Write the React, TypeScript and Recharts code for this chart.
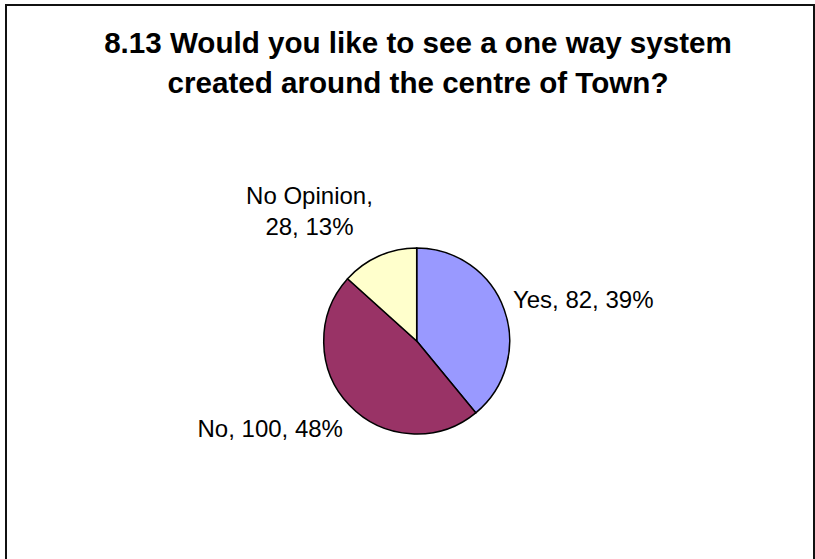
import React from 'react';
import { PieChart, Pie, Cell } from 'recharts';

const categories = ['Yes', 'No', 'No Opinion'];
const counts = [82, 100, 28];
const sliceColors = ['#9999FF', '#993366', '#FFFFCC'];
const titleLines = [
  '8.13 Would you like to see a one way system',
  'created around the centre of Town?',
];

const data = categories.map((name, i) => ({ name, value: counts[i] }));

const RADIAN = Math.PI / 180;
const FONT = '"Liberation Sans", Arial, Helvetica, sans-serif';

// Excel-style "best fit" placement, nudged per slice from the edge point
const labelNudge = [
  { dx: 8.7, dy: -1.4, anchor: 'start' },
  { dx: -6.5, dy: 31.4, anchor: 'end' },
  { dx: -69.4, dy: -52, anchor: 'middle' },
];

const renderLabel = (props: any) => {
  const { cx, cy, midAngle, outerRadius, index, name, value, percent } = props;
  const px = cx + outerRadius * Math.cos(-midAngle * RADIAN);
  const py = cy + outerRadius * Math.sin(-midAngle * RADIAN);
  const n = labelNudge[index];
  const pct = `${Math.round(percent * 100)}%`;
  const x = px + n.dx;
  const y = py + n.dy;

  if (name === 'No Opinion') {
    return (
      <text x={x} y={y} textAnchor="middle" fill="#000" fontSize={24} fontFamily={FONT}>
        <tspan x={x} y={y}>{`${name},`}</tspan>
        <tspan x={x} y={y + 31}>{`${value}, ${pct}`}</tspan>
      </text>
    );
  }
  return (
    <text x={x} y={y} textAnchor={n.anchor as any} fill="#000" fontSize={24} fontFamily={FONT}>
      {`${name}, ${value}, ${pct}`}
    </text>
  );
};

export default function App() {
  return (
    <div
      style={{
        position: 'absolute',
        left: 0,
        top: 0,
        width: 815,
        height: 559,
        overflow: 'hidden',
        background: '#fff',
      }}
    >
      {/* chart area frame, bottom edge falls outside the picture */}
      <div
        style={{
          position: 'absolute',
          left: 5,
          top: 4,
          width: 806,
          height: 700,
          borderLeft: '2px solid #111',
          borderTop: '2px solid #111',
          borderRight: '2px solid #111',
        }}
      />
      <svg width={815} height={120} style={{ position: 'absolute', left: 0, top: 0 }}>
        {titleLines.map((line, i) => (
          <text
            key={i}
            x={418}
            y={53 + i * 40}
            textAnchor="middle"
            fontFamily={FONT}
            fontWeight="bold"
            fontSize={29.6}
            fill="#000"
          >
            {line}
          </text>
        ))}
      </svg>
      <div style={{ position: 'absolute', left: 0, top: 0 }}>
        <PieChart width={815} height={559} margin={{ top: 0, right: 0, bottom: 0, left: 0 }}>
          <Pie
            data={data}
            dataKey="value"
            nameKey="name"
            cx={416.7}
            cy={341}
            outerRadius={93}
            startAngle={90}
            endAngle={-270}
            stroke="#000"
            strokeWidth={1.5}
            label={renderLabel}
            labelLine={false}
            isAnimationActive={false}
          >
            {data.map((entry, i) => (
              <Cell key={entry.name} fill={sliceColors[i]} />
            ))}
          </Pie>
        </PieChart>
      </div>
    </div>
  );
}
